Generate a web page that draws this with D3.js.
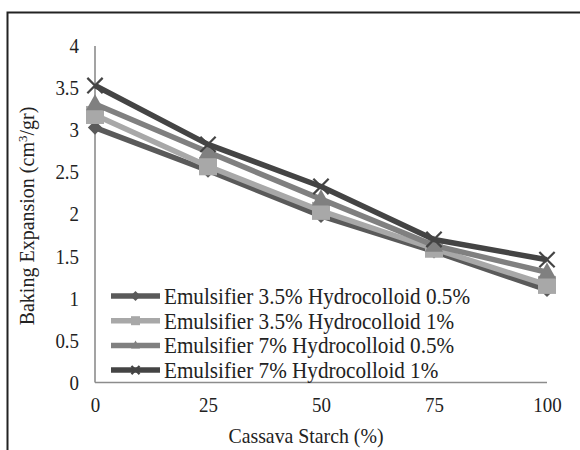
<!DOCTYPE html>
<html>
<head>
<meta charset="utf-8">
<script src="https://cdn.jsdelivr.net/npm/d3@7"></script>
<style>
  html, body { margin: 0; padding: 0; background: #fff; }
</style>
</head>
<body>
<svg id="chart" width="580" height="450"></svg>
<script>
// Cassava starch substitution levels (%)
const starchLevels = [0, 25, 50, 75, 100];
const xTickLabels = ["0", "25", "50", "75", "100"];
const yTickValues = [0, 0.5, 1, 1.5, 2, 2.5, 3, 3.5, 4];
const yTickLabels = ["0", "0.5", "1", "1.5", "2", "2.5", "3", "3.5", "4"];

const seriesNames = [
  "Emulsifier 3.5% Hydrocolloid 0.5%",
  "Emulsifier 3.5% Hydrocolloid 1%",
  "Emulsifier 7% Hydrocolloid 0.5%",
  "Emulsifier 7% Hydrocolloid 1%"
];
// Baking expansion (cm3/gr) per formulation
const emul35Hyd05 = [3.03, 2.52, 1.98, 1.56, 1.10];
const emul35Hyd1  = [3.18, 2.57, 2.04, 1.59, 1.16];
const emul7Hyd05  = [3.31, 2.74, 2.18, 1.63, 1.31];
const emul7Hyd1   = [3.53, 2.83, 2.33, 1.70, 1.46];

const seriesValues = [emul35Hyd05, emul35Hyd1, emul7Hyd05, emul7Hyd1];
const seriesColors = ["#5a5a5a", "#a8a8a8", "#808080", "#444444"];
const seriesMarkers = ["diamond", "square", "triangle", "cross"];

const FONT = '"Liberation Serif", "Times New Roman", serif';
const TEXT_COLOR = "#222";
const SQUEEZE = 0.9; // glyphs are drawn a little narrow

// narrow a horizontal label while keeping its height
function squeeze(sel) {
  sel.each(function () {
    const w = this.getComputedTextLength();
    d3.select(this).attr("textLength", w * SQUEEZE).attr("lengthAdjust", "spacingAndGlyphs");
  });
}

const svg = d3.select("#chart");

// outer frame
svg.append("path")
  .attr("d", "M7.5,451 V12.5 H581")
  .attr("fill", "none").attr("stroke", "#222").attr("stroke-width", 2);

const x = d3.scaleLinear().domain([0, 100]).range([95, 547]);
const y = d3.scaleLinear().domain([0, 4]).range([382.5, 46]);

// axes without tick marks
const gx = svg.append("g").attr("transform", `translate(0,${y(0)})`)
  .call(d3.axisBottom(x).tickValues(starchLevels)
    .tickFormat((d, i) => xTickLabels[i]).tickSize(0).tickPadding(15));
const gy = svg.append("g").attr("transform", `translate(${x(0)},0)`)
  .call(d3.axisLeft(y).tickValues(yTickValues)
    .tickFormat((d, i) => yTickLabels[i]).tickSize(0).tickPadding(16));

[gx, gy].forEach(g => {
  g.attr("font-family", null).attr("font-size", null);
  g.select(".domain").attr("stroke", "#8c8c8c").attr("stroke-width", 1.6);
  g.selectAll("text").style("font-family", FONT).style("font-size", "21px")
    .attr("fill", TEXT_COLOR).call(squeeze);
});
gx.select(".domain").attr("d", `M${x(0)},0H${x(100)}`);
gy.select(".domain").attr("d", `M0,${y(4)}V${y(0)}`);

// axis titles
svg.append("text")
  .attr("x", 306).attr("y", 443)
  .attr("text-anchor", "middle")
  .style("font-family", FONT).style("font-size", "22px").attr("fill", TEXT_COLOR)
  .text("Cassava Starch (%)")
  .call(squeeze);

const yTitle = svg.append("text")
  .attr("transform", "translate(34,216) rotate(-90)")
  .attr("text-anchor", "middle")
  .style("font-family", FONT).style("font-size", "20px").attr("fill", TEXT_COLOR);
yTitle.append("tspan").text("Baking Expansion (cm");
yTitle.append("tspan").style("font-size", "13px").attr("dy", -7).text("3");
yTitle.append("tspan").attr("dy", 7).text("/gr)");

function drawMarker(g, type, color, size) {
  const s = size;
  if (type === "diamond") {
    g.append("path").attr("d", `M0,${-s*0.55}L${s*0.55},0L0,${s*0.55}L${-s*0.55},0Z`)
      .attr("fill", color);
  } else if (type === "square") {
    g.append("rect").attr("x", -s/2).attr("y", -s/2).attr("width", s).attr("height", s)
      .attr("fill", color);
  } else if (type === "triangle") {
    g.append("path").attr("d", `M0,${-s*0.55}L${s*0.5},${s*0.35}L${-s*0.5},${s*0.35}Z`)
      .attr("fill", color);
  } else {
    const a = s * 0.45;
    g.append("path").attr("d", `M${-a},${-a}L${a},${a}M${-a},${a}L${a},${-a}`)
      .attr("stroke", color).attr("stroke-width", 2.2).attr("fill", "none");
  }
}

const line = d3.line().x(d => x(d[0])).y(d => y(d[1]));
const markerSizes = [13, 18, 18, 17];

seriesValues.forEach((vals, i) => {
  const pts = starchLevels.map((lv, j) => [lv, vals[j]]);
  const g = svg.append("g");
  g.append("path").datum(pts).attr("d", line)
    .attr("fill", "none").attr("stroke", seriesColors[i])
    .attr("stroke-width", 5.5).attr("stroke-linejoin", "round");
  pts.forEach(p => {
    const mg = g.append("g").attr("transform", `translate(${x(p[0])},${y(p[1])})`);
    drawMarker(mg, seriesMarkers[i], seriesColors[i], markerSizes[i]);
  });
});

// legend
const legend = svg.append("g");
seriesNames.forEach((name, i) => {
  const ly = 296 + i * 24.7;
  const row = legend.append("g").attr("transform", `translate(0,${ly})`);
  row.append("line").attr("x1", 111).attr("x2", 160).attr("y1", 0).attr("y2", 0)
    .attr("stroke", seriesColors[i]).attr("stroke-width", 5.5);
  const mg = row.append("g").attr("transform", "translate(135.5,0)");
  drawMarker(mg, seriesMarkers[i], seriesColors[i], 9);
  row.append("text").attr("x", 164).attr("y", 8)
    .style("font-family", FONT).style("font-size", "23.5px").attr("fill", TEXT_COLOR)
    .text(name)
    .call(squeeze);
});
</script>
</body>
</html>
